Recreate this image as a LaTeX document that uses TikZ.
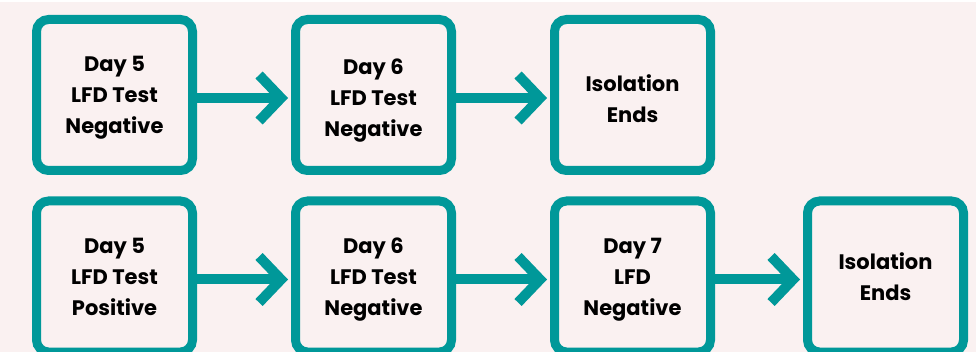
\documentclass[tikz,border=0pt]{standalone}
\usepackage{fontspec}
\setmainfont{Poppins}
\usetikzlibrary{positioning,arrows.meta}

\definecolor{boxteal}{RGB}{0,152,153}
\definecolor{bgpink}{RGB}{250,241,241}

\tikzset{
  stepbox/.style={draw=boxteal,line width=9pt,rounded corners=12pt,fill=bgpink,
    minimum width=156pt,minimum height=151pt,align=center,text=black,
    text depth=0pt,font=\fontsize{21}{31}\selectfont\bfseries},
  flow/.style={draw=boxteal,line width=10pt,shorten >=3pt,
    -{Straight Barb[length=22pt,width=46pt]}}
}

\begin{document}
\begin{tikzpicture}[x=1pt,y=-1pt]
\fill[white] (0,0) rectangle (976,352);
\fill[bgpink] (0,2) rectangle (976,352);
\useasboundingbox (0,0) rectangle (976,352);

% top row
\node[stepbox] (d5neg) at (114.5,95) {Day 5\\LFD Test\\Negative};
\node[stepbox,right=94pt of d5neg,text height=84pt] (d6neg) {Day 6\\LFD Test\\Negative};
\node[stepbox,right=94pt of d6neg,text height=56pt] (endA) {Isolation\\Ends};

% bottom row
\node[stepbox] (d5pos) at (114.5,276.5) {Day 5\\LFD Test\\Positive};
\node[stepbox,right=94pt of d5pos] (d6negB) {Day 6\\LFD Test\\Negative};
\node[stepbox,right=94pt of d6negB] (d7neg) {Day 7\\LFD\\Negative};
\node[stepbox,right=88pt of d7neg] (endB) {Isolation\\Ends};

\draw[flow] ([yshift=-3pt]d5neg.east) -- ([yshift=-3pt]d6neg.west);
\draw[flow] ([yshift=-3pt]d6neg.east) -- ([yshift=-3pt]endA.west);
\draw[flow] ([yshift=-3pt]d5pos.east) -- ([yshift=-3pt]d6negB.west);
\draw[flow] ([yshift=-3pt]d6negB.east) -- ([yshift=-3pt]d7neg.west);
\draw[flow] ([yshift=-3pt]d7neg.east) -- ([yshift=-3pt]endB.west);
\end{tikzpicture}
\end{document}
